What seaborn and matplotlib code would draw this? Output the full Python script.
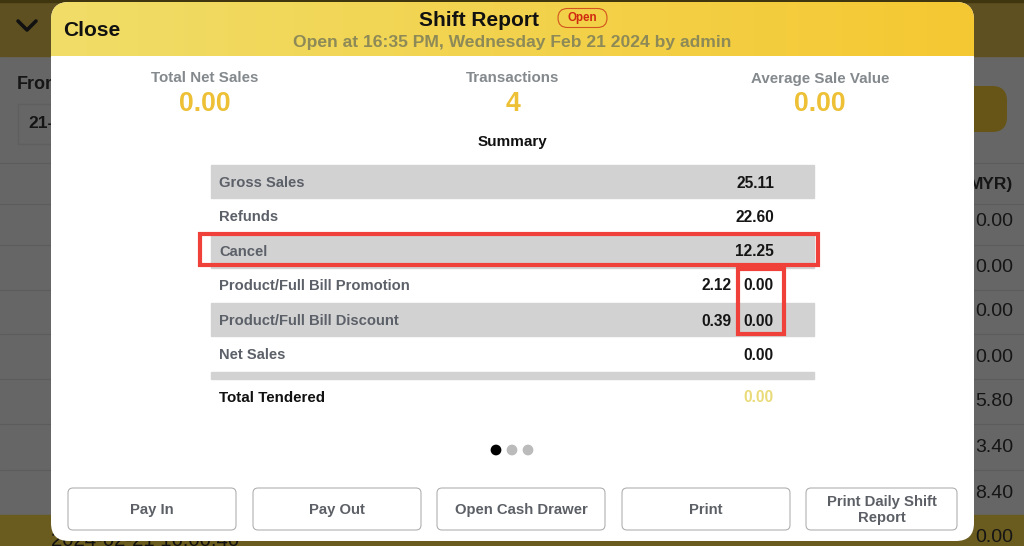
import numpy as np
import matplotlib.pyplot as plt
from matplotlib.patches import FancyBboxPatch, Rectangle
import seaborn as sns

# Report text and values
title = "Shift Report"
status = "Open"
subtitle = "Open at 16:35 PM, Wednesday Feb 21 2024 by admin"
kpi_labels = ["Total Net Sales", "Transactions", "Average Sale Value"]
kpi_values = ["0.00", "4", "0.00"]
row_labels = ["Gross Sales", "Refunds", "Cancel", "Product/Full Bill Promotion",
              "Product/Full Bill Discount", "Net Sales"]
row_values = ["25.11", "22.60", "12.25", "0.00", "0.00", "0.00"]
row_extra = ["", "", "", "2.12", "0.39", ""]
button_labels = ["Pay In", "Pay Out", "Open Cash Drawer", "Print", "Print Daily Shift\nReport"]
bg_values = ["MYR)", "0.00", "0.00", "0.00", "0.00", "5.80", "3.40", "8.40", "0.00"]

sns.set_theme(style="white")
plt.rcParams["font.family"] = ["Liberation Sans", "DejaVu Sans"]

fig = plt.figure(figsize=(10.24, 5.46), dpi=100)
ax = fig.add_axes([0, 0, 1, 1])
ax.set_xlim(0, 1024)
ax.set_ylim(546, 0)
ax.axis("off")


def txt(x, y, s, size, color="#111111", ha="center", weight="bold", z=10):
    ax.text(x, y, s, fontsize=size, color=color, ha=ha, va="center", fontweight=weight,
            zorder=z, linespacing=1.2)


# dimmed page behind the dialog
ax.add_patch(Rectangle((0, 0), 1024, 546, color="#666666", zorder=0))
ax.add_patch(Rectangle((0, 0), 1024, 56, color="#5e5020", zorder=1))
ax.add_patch(Rectangle((0, 0), 1024, 2, color="#3f3610", zorder=1))
ax.add_patch(Rectangle((0, 515), 1024, 31, color="#6a5b1e", zorder=1))
for y in [163, 204, 245, 290, 334, 379, 424, 470]:
    ax.plot([0, 1024], [y, y], color="#5c5c5c", lw=0.8, zorder=1)
ax.plot([18, 60], [104, 104], color="#5f5f5f", lw=1, zorder=1)
ax.plot([18, 60], [144, 144], color="#5f5f5f", lw=1, zorder=1)
ax.plot([18, 18], [104, 144], color="#5f5f5f", lw=1, zorder=1)
ax.plot([18, 27, 36], [21, 30, 21], color="#111111", lw=2.6, zorder=2)
txt(17, 84.5, "From", 13, ha="left", color="#151515", z=2)
txt(28, 124, "21-02", 12.5, ha="left", color="#151515", z=2)
txt(51, 540, "2024-02-21 16:00:40", 14.7, ha="left", weight="normal", z=2)
ax.add_patch(FancyBboxPatch((960, 86), 47, 46, boxstyle="round,pad=0,rounding_size=15",
                            fc="#675417", ec="none", zorder=1))
bg_y = [185, 222, 267, 312, 357, 402, 447, 493, 538]
for y, s in zip(bg_y, bg_values):
    txt(1013, y, s, 12.5 if s == "MYR)" else 14, ha="right", color="#151515",
        weight="bold" if s == "MYR)" else "normal", z=2)

# dialog
clip = FancyBboxPatch((51, 2), 923, 539, boxstyle="round,pad=0,rounding_size=18",
                      fc="white", ec="none", zorder=3)
ax.add_patch(clip)
grad = np.linspace(0, 1, 256).reshape(1, -1, 1)
left = np.array([240, 221, 104]) / 255
right = np.array([245, 200, 50]) / 255
im = ax.imshow(left + grad * (right - left), extent=(51, 974, 56, 2), aspect="auto", zorder=4)
im.set_clip_path(clip)

txt(63, 30, "Close", 15, ha="left")
txt(479, 20, title, 15)
ax.add_patch(FancyBboxPatch((558, 8.5), 49, 19, boxstyle="round,pad=0,rounding_size=9.5",
                            fc="none", ec="#d2541e", lw=0.8, zorder=5))
txt(582.5, 18.5, status, 8.4, color="#d02a10")
txt(512, 42, subtitle, 12.6, color="#8d8a58")

for x, lab, val in zip([205, 513, 820], kpi_labels, kpi_values):
    txt(x, 78.5, lab, 10.9, color="#84898d")
    txt(x, 104, val, 19.2, color="#edc035")
txt(512, 142, "Summary", 11, color="#111111")

# summary rows
row_y = [183, 217, 252, 286, 321, 355]
for top, h in [(165, 33), (234, 34), (303, 33), (372, 7)]:
    ax.add_patch(Rectangle((211, top), 603, h, color="#d2d2d2", zorder=4))
for y, lab, val, extra in zip(row_y, row_labels, row_values, row_extra):
    txt(219, y, lab, 10.6, ha="left", color="#5c6068")
    txt(774, y, val, 11.2, ha="right", color="#151515")
    if extra:
        txt(732, y, extra, 11.2, ha="right", color="#151515")
txt(219, 397.5, "Total Tendered", 10.9, ha="left")
txt(774, 397.5, "0.00", 11.2, ha="right", color="#eadb78")

# red highlight boxes
ax.add_patch(Rectangle((199.5, 234), 618.5, 31, fc="none", ec="#f0403a", lw=3, zorder=6))
ax.add_patch(Rectangle((738, 269), 45.5, 65, fc="none", ec="#f0403a", lw=3, zorder=6))

# pager dots
sns.scatterplot(x=[496, 512, 528], y=[450, 450, 450], hue=["on", "off", "off"],
                palette={"on": "#000000", "off": "#bbbbbb"}, s=60, linewidth=0,
                legend=False, ax=ax, zorder=6)

# buttons
spans = [(68, 236), (253, 421), (437, 605), (622, 790), (806, 957)]
for (x0, x1), lab in zip(spans, button_labels):
    ax.add_patch(FancyBboxPatch((x0, 488), x1 - x0, 42, boxstyle="round,pad=0,rounding_size=5",
                                fc="white", ec="#b0b0b0", lw=0.8, zorder=5))
    txt((x0 + x1) / 2, 510, lab, 10.7, color="#5c6066")

ax.set_xlim(0, 1024)
ax.set_ylim(546, 0)
fig.savefig("out.png", dpi=100)
